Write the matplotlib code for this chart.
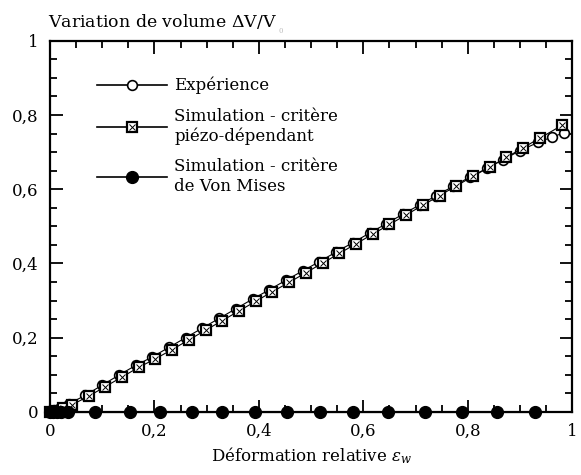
import matplotlib
matplotlib.use("Agg")
import matplotlib.pyplot as plt
from matplotlib.ticker import MultipleLocator, FuncFormatter
from matplotlib.legend_handler import HandlerTuple

plt.rcParams['font.family'] = ['DejaVu Serif']
plt.rcParams['mathtext.fontset'] = 'dejavuserif'

# Simulation - critere piezo-dependant
sim_x = [0.0, 0.01, 0.025, 0.042, 0.074, 0.106, 0.138, 0.170, 0.202, 0.234,
         0.266, 0.298, 0.330, 0.362, 0.394, 0.426, 0.458, 0.490, 0.522, 0.554,
         0.586, 0.618, 0.650, 0.682, 0.714, 0.746, 0.778, 0.810, 0.842, 0.874,
         0.906, 0.938, 0.980]
sim_y = [0.0, 0.003, 0.010, 0.019, 0.042, 0.068, 0.094, 0.120, 0.143, 0.168,
         0.194, 0.220, 0.246, 0.272, 0.298, 0.324, 0.349, 0.375, 0.401, 0.427,
         0.453, 0.479, 0.505, 0.531, 0.557, 0.583, 0.609, 0.635, 0.660, 0.686,
         0.712, 0.738, 0.772]

# Experience
exp_x = [0.0, 0.008, 0.020, 0.036, 0.068, 0.100, 0.132, 0.164, 0.196, 0.228,
         0.260, 0.292, 0.324, 0.356, 0.388, 0.420, 0.452, 0.484, 0.516, 0.548,
         0.580, 0.612, 0.644, 0.676, 0.708, 0.740, 0.772, 0.804, 0.836, 0.868,
         0.900, 0.934, 0.962, 0.984]
exp_y = [0.0, 0.004, 0.011, 0.021, 0.045, 0.072, 0.099, 0.125, 0.148, 0.174,
         0.200, 0.226, 0.252, 0.278, 0.304, 0.329, 0.355, 0.380, 0.405, 0.431,
         0.456, 0.482, 0.507, 0.533, 0.558, 0.583, 0.608, 0.633, 0.656, 0.680,
         0.704, 0.726, 0.741, 0.752]

# Simulation - critere de Von Mises
vm_x = [0.0, 0.006, 0.013, 0.022, 0.035, 0.086, 0.153, 0.211, 0.271, 0.329,
        0.393, 0.453, 0.517, 0.581, 0.648, 0.718, 0.789, 0.856, 0.929]
vm_y = [0.0] * len(vm_x)

labels = ['Expérience', 'Simulation - critère\npiézo-dépendant',
          'Simulation - critère\nde Von Mises']

fig = plt.figure(figsize=(5.81, 4.75), dpi=100)
ax = fig.add_axes([0.086, 0.133, 0.899, 0.781])

l_exp, = ax.plot(exp_x, exp_y, '-', color='black', lw=0.8, marker='o', ms=7,
                 mfc='white', mec='black', mew=1.2, clip_on=False, zorder=3)
l_sim, = ax.plot(sim_x, sim_y, '-', color='black', lw=0.8, marker='s', ms=6.5,
                 mfc='white', mec='black', mew=1.6, clip_on=False, zorder=4)
l_simx, = ax.plot(sim_x, sim_y, ls='none', marker='x', ms=3.8, mec='black',
                  mew=0.7, clip_on=False, zorder=5)
l_vm, = ax.plot(vm_x, vm_y, '-', color='black', lw=0.8, marker='o', ms=8.5,
                mfc='black', mec='black', clip_on=False, zorder=6)

ax.set_xlim(0, 1)
ax.set_ylim(0, 1)

comma = FuncFormatter(lambda v, p: ('%g' % round(v, 2)).replace('.', ','))
for axis in (ax.xaxis, ax.yaxis):
    axis.set_major_locator(MultipleLocator(0.2))
    axis.set_minor_locator(MultipleLocator(0.05))
    axis.set_major_formatter(comma)
ax.tick_params(which='both', direction='in', top=True, right=True,
               labelsize=12, width=1.3)
ax.tick_params(which='major', length=9, pad=8)
ax.tick_params(which='minor', length=5)
for s in ax.spines.values():
    s.set_linewidth(1.6)

ax.set_xlabel(r'Déformation relative $\varepsilon_{w}$', fontsize=12,
              labelpad=4)

# title above the axes, with a faint subscript 0 after it
title = fig.text(0.083, 0.975, r'Variation de volume $\Delta$V/V', fontsize=12.5,
                 ha='left', va='top')
fig.canvas.draw()
bb = title.get_window_extent(fig.canvas.get_renderer())
fig.text(bb.x1 / fig.bbox.width + 0.002, bb.y0 / fig.bbox.height - 0.008, '0',
         fontsize=5, color='#bbbbbb', ha='left', va='bottom')

leg = ax.legend([l_exp, (l_sim, l_simx), l_vm], labels,
                handler_map={tuple: HandlerTuple(ndivide=1, pad=0)},
                loc='upper left', bbox_to_anchor=(0.09, 0.903), frameon=False,
                borderpad=0, borderaxespad=0,
                fontsize=12, handlelength=4.2, handletextpad=0.45,
                labelspacing=0.8, numpoints=1)
for line in leg.get_lines():
    line.set_linewidth(1.2)

fig.savefig('out.png', dpi=100)
